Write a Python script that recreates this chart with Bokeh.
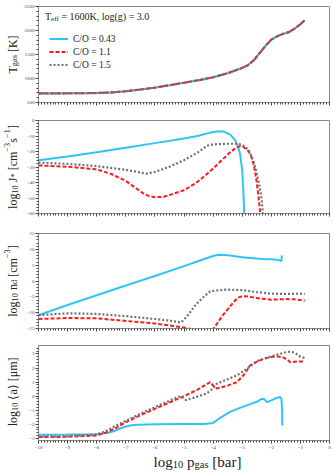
import math
from bokeh.plotting import figure
from bokeh.layouts import column, row
from bokeh.models import Range1d, FixedTicker, Label, Legend, LegendItem
from bokeh.embed import file_html
from bokeh.resources import INLINE

# ---------------- data ----------------
co_labels = ["C/O = 0.43", "C/O = 1.1", "C/O = 1.5"]

p_T = [-10, -9, -8, -7.5, -7, -6.5, -6, -5.5, -5, -4.5, -4, -3.5, -3, -2.8, -2.6,
       -2.4, -2.2, -2.0, -1.8, -1.6, -1.4, -1.2, -1.0, -0.85]
T_gas = [690, 692, 697, 710, 735, 770, 810, 860, 912, 965, 1025, 1110, 1220, 1280, 1380,
         1530, 1680, 1810, 1880, 1930, 1965, 2040, 2130, 2215]

pJ_043 = [-10, -9, -8, -7, -6, -5, -4.5, -4.2, -4, -3.8, -3.6, -3.4, -3.25, -3.15, -3.07,
          -3.0, -2.96, -2.93]
J_043 = [-25.7, -23.2, -20.5, -17.6, -14.6, -11.6, -9.8, -8.3, -7.4, -6.9, -7.3, -9.3,
         -12.5, -16.5, -22, -32, -45, -60]
pJ_11 = [-10, -9, -8, -7.5, -7, -6.7, -6.4, -6.2, -6, -5.7, -5.4, -5, -4.6, -4.3, -4,
         -3.7, -3.4, -3.2, -3.07, -2.95, -2.8, -2.7, -2.6, -2.55, -2.5, -2.44, -2.38]
J_11 = [-29, -29.8, -31.5, -34.5, -39, -43, -47, -48.8, -49.5, -49.2, -47.5, -45, -40.5,
        -36, -31, -25.5, -20.3, -17.5, -16.5, -17.2, -19.5, -22.5, -29, -34, -40, -49, -60]
pJ_15 = [-10, -9, -8, -7, -6.6, -6.3, -6, -5.5, -5, -4.5, -4.2, -4, -3.5, -3.2, -3, -2.8,
         -2.73, -2.6, -2.5, -2.42, -2.36, -2.32, -2.29]
J_15 = [-27.2, -28.0, -29.4, -31.8, -33.2, -34.3, -33.2, -29.8, -25.6, -20.3, -16.2,
        -15.4, -15.0, -15.0, -15.6, -18.5, -21, -27, -34, -41, -47, -53, -60]

pn_043 = [-10, -9, -8, -7, -6, -5, -4.5, -4, -3.8, -3.5, -3, -2.5, -2.2, -2, -1.8,
          -1.65, -1.64]
nd_043 = [-10.8, -7.6, -4.5, -1.4, 1.6, 4.7, 6.3, 7.9, 8.3, 8.1, 7.5, 7.1, 6.9, 6.9,
          6.7, 6.3, 8.1]
pn_11 = [-10, -9, -8, -7, -6, -5, -4.7, -4.4, -4.1, -3.98, -3.8, -3.64, -3.5, -3.3,
         -3.15, -3.0, -2.8, -2.5, -2, -1.5, -1.2, -0.85]
nd_11 = [-12, -11.7, -11.8, -12.6, -13.4, -14.7, -15.3, -15.8, -15.5, -15.0, -12.6,
         -10.5, -9.0, -6.7, -5.3, -4.8, -4.9, -5.4, -5.9, -5.7, -5.8, -6.2]
pn_15 = [-10, -9, -8, -7, -6, -5.5, -5.1, -4.9, -4.6, -4.3, -4.1, -3.9, -3.5, -3, -2.5,
         -2, -1.5, -1, -0.85]
nd_15 = [-10.8, -10.2, -10.4, -11.1, -12.0, -12.5, -13.1, -11.2, -7.5, -4.8, -3.3, -3.0,
         -2.7, -2.9, -3.5, -4.0, -4.1, -4.0, -4.1]

pa_043 = [-10, -9, -8, -7.6, -7.4, -7.2, -7.0, -6.8, -6.6, -6, -5, -4.3, -4, -3.8, -3.6,
          -3.4, -3.1, -2.8, -2.5, -2.33, -2.25, -2.15, -2.0, -1.85, -1.7, -1.65, -1.63,
          -1.62]
a_043 = [-2.74, -2.73, -2.7, -2.6, -2.48, -2.3, -2.15, -2.07, -2.03, -2.0, -1.98, -1.97,
         -1.9, -1.6, -1.35, -1.1, -0.85, -0.62, -0.4, -0.2, -0.2, -0.42, -0.3, -0.15,
         -0.05, -0.2, -1.0, -2.08]
pa_11 = [-10, -9, -8, -7.7, -7.42, -7, -6.5, -6, -5.5, -5, -4.5, -4.1, -4.0, -3.87, -3.5,
         -3.18, -2.95, -2.73, -2.5, -2.27, -2.0, -1.81, -1.6, -1.45, -1.35, -1.2, -1.0,
         -0.85]
a_11 = [-2.9, -2.89, -2.79, -2.6, -2.34, -1.85, -1.35, -0.9, -0.45, 0.0, 0.5, 1.0, 0.75,
        0.54, 0.75, 1.0, 1.5, 2.18, 2.45, 2.65, 2.78, 2.83, 2.76, 2.6, 2.41, 2.45, 2.47,
        2.46]
pa_15 = [-10, -9, -8, -7.7, -7.4, -7, -6.5, -6, -5.5, -5.13, -5.0, -4.93, -4.6, -4.22,
         -4.0, -3.87, -3.5, -3.18, -2.84, -2.5, -2.2, -1.81, -1.5, -1.35, -1.2, -1.0,
         -0.85]
a_15 = [-2.86, -2.85, -2.72, -2.5, -2.15, -1.75, -1.25, -0.78, -0.32, 0.0, -0.15, -0.28,
        -0.07, 0.19, 0.55, 0.89, 1.2, 1.48, 1.94, 2.48, 2.7, 2.95, 3.12, 3.16, 3.1, 2.8,
        2.72]

x_ticks = [-10, -9, -8, -7, -6, -5, -4, -3, -2, -1, 0]
yticks_T = [500, 1000, 1500, 2000, 2500]
yticks_J = [-60, -50, -40, -30, -20, -10, 0]
yticks_n = [-15, -10, -5, 0, 5, 10, 15]
yticks_a = [-3, -2, -1, 0, 1, 2, 3]

# ---------------- style ----------------
FONT = "Liberation Serif"
BLUE = "#2ec5f5"
RED = "#ff1a1a"
GRAY = "#707070"
AX = "#8a8a8a"
STRIP = 21          # width of the left label strip
FL = 35             # frame left (page px)
FW = 291            # frame width
TOTAL_H = 474
NB = "\u00a0"

W = {' ': 250, NB: 250, '[': 333, ']': 333, 'K': 722, 'T': 611, 'g': 500, 'a': 444,
     's': 389, 'l': 278, 'o': 500, 'J': 389, '*': 500, 'c': 444, 'm': 778,
     '\u2212': 564, 'n': 500, 'd': 500, '\u27e8': 333, '\u27e9': 333, '\u03bc': 520,
     'p': 500, 'b': 500, 'r': 333, 'e': 444, 'f': 333, '=': 564, ',': 250, '(': 333,
     ')': 333, '.': 250, 'C': 667, '/': 278, 'O': 722}


def tw(text, size):
    return sum(W.get(ch, 500) for ch in text) / 1000.0 * size


def rich(p, ox, oy_bottom, segs, px, py, base, rotated=False, center=True):
    """Mixed sub/superscript text. px, py: page px; (ox, oy_bottom): page position of
    the frame's bottom-left corner of figure p."""
    sizes = {"n": base, "sub": 0.7 * base, "sup": 0.7 * base}
    shifts = {"n": 0.0, "sub": -0.2 * base, "sup": 0.42 * base}
    total = sum(tw(t, sizes[k]) for t, k in segs)
    sx0 = px - ox
    sy0 = oy_bottom - py
    pos = (sy0 if rotated else sx0) - (total / 2.0 if center else 0.0)
    for t, k in segs:
        s = sizes[k]
        if rotated:
            lab = Label(x=sx0 - shifts[k], y=pos, angle=math.pi / 2)
        else:
            lab = Label(x=pos, y=sy0 + shifts[k])
        lab.x_units = "screen"
        lab.y_units = "screen"
        lab.text = t
        lab.text_font = FONT
        lab.text_font_size = f"{s:.2f}px"
        lab.text_color = "#222222"
        lab.text_align = "left"
        lab.text_baseline = "alphabetic"
        p.add_layout(lab)
        pos += tw(t, s)


def minus(v):
    return f"{v:g}".replace("-", "\u2212")


def make_fig(fh, top, bottom, yr, yticks, yminor, show_x):
    p = figure(frame_width=FW, frame_height=fh, output_backend="svg",
               toolbar_location=None, x_range=Range1d(-10, 0), y_range=Range1d(*yr),
               min_border_left=FL - STRIP, min_border_right=7, min_border_top=top,
               min_border_bottom=bottom)
    p.grid.visible = False
    p.outline_line_color = AX
    p.background_fill_color = "white"
    p.border_fill_color = "white"
    p.xaxis.ticker = FixedTicker(ticks=x_ticks,
                                 minor_ticks=[round(-10 + 0.1 * i, 2) for i in range(101)])
    p.yaxis.ticker = FixedTicker(ticks=yticks, minor_ticks=yminor)
    for ax in (p.xaxis[0], p.yaxis[0]):
        ax.axis_line_color = AX
        ax.major_tick_line_color = "#444444"
        ax.minor_tick_line_color = "#444444"
        ax.major_tick_out = 3
        ax.major_tick_in = 0
        ax.minor_tick_out = 2
        ax.minor_tick_in = 0
        ax.major_label_standoff = 1
        ax.major_label_text_font = FONT
        ax.major_label_text_font_size = "5px"
        ax.major_label_text_color = "#444444"
    p.yaxis.major_label_overrides = {v: minus(v) for v in yticks}
    if show_x:
        p.xaxis.major_label_overrides = {v: minus(v) for v in x_ticks}
        p.xaxis.major_label_standoff = 2
    else:
        p.xaxis.major_label_overrides = {v: "" for v in x_ticks}
        p.xaxis.major_label_text_font_size = "1px"
        p.xaxis.major_label_standoff = 0
    return p


def blank(w, h):
    f = figure(frame_width=w, frame_height=h, output_backend="svg", toolbar_location=None,
               x_range=Range1d(0, 1), y_range=Range1d(0, 1), x_axis_type=None,
               y_axis_type=None, min_border=0, min_border_left=0, min_border_right=0,
               min_border_top=0, min_border_bottom=0)
    f.outline_line_color = None
    f.grid.visible = False
    f.background_fill_color = "white"
    f.border_fill_color = "white"
    return f


def minors(lo, hi, step):
    n = int(round((hi - lo) / step))
    return [round(lo + i * step, 4) for i in range(n + 1)]


def draw(p, xs, ys):
    rs = []
    rs.append(p.line(xs[0], ys[0], line_color=BLUE, line_width=2))
    rs.append(p.line(xs[1], ys[1], line_color=RED, line_width=2, line_dash="4 2"))
    rs.append(p.line(xs[2], ys[2], line_color=GRAY, line_width=2.2, line_dash="2 2"))
    return rs


YLAB_X = 12
YS = 12

# panel 1 : page y 0..111, frame 6..102
p1 = make_fig(96, 6, 9, (500, 2500), yticks_T, minors(500, 2500, 100), False)
r1 = draw(p1, [p_T, p_T, p_T], [T_gas, T_gas, T_gas])
legend = Legend(items=[LegendItem(label=co_labels[i], renderers=[r1[i]]) for i in range(3)],
                location=(11, 31), padding=0, margin=0, spacing=0,
                glyph_width=19, glyph_height=13, label_height=13, label_standoff=5,
                label_text_font=FONT, label_text_font_size="9.5px",
                label_text_color="#222222", background_fill_alpha=0,
                border_line_alpha=0)
p1.add_layout(legend)
rich(p1, FL, 102, [("T", "n"), ("eff", "sub"),
                   (NB + "=" + NB + "1600K," + NB + "log(g)" + NB + "=" + NB + "3.0", "n")],
     41.5, 16, 10, center=False)

# panel 2 : page y 111..223, frame 120..213
p2 = make_fig(93, 9, 10, (-60, 0), yticks_J, minors(-60, 0, 2), False)
draw(p2, [pJ_043, pJ_11, pJ_15], [J_043, J_11, J_15])

# panel 3 : page y 223..336, frame 233..328
p3 = make_fig(95, 10, 8, (-15, 15), yticks_n, minors(-15, 15, 1), False)
draw(p3, [pn_043, pn_11, pn_15], [nd_043, nd_11, nd_15])

# panel 4 : page y 336..451, frame 345..440
p4 = make_fig(95, 9, 11, (-3.15, 3.6), yticks_a, minors(-3.0, 3.4, 0.2), True)
draw(p4, [pa_043, pa_11, pa_15], [a_043, a_11, a_15])

# left strip with the y-axis titles (page x 0..21, y 0..474)
left = blank(STRIP, TOTAL_H)
rich(left, 0, TOTAL_H, [("T", "n"), ("gas", "sub"), (NB + "[K]", "n")],
     YLAB_X, 54, YS, rotated=True)
rich(left, 0, TOTAL_H, [("log", "n"), ("10", "sub"), (NB + "J", "n"), ("*", "sub"),
                        (NB + "[cm", "n"), ("\u22123", "sup"), ("s", "n"),
                        ("\u22121", "sup"), ("]", "n")],
     YLAB_X, 166.5, YS, rotated=True)
rich(left, 0, TOTAL_H, [("log", "n"), ("10", "sub"), (NB + "n", "n"), ("d", "sub"),
                        (NB + "[cm", "n"), ("\u22123", "sup"), ("]", "n")],
     YLAB_X, 280.5, YS, rotated=True)
rich(left, 0, TOTAL_H, [("log", "n"), ("10", "sub"),
                        (NB + "\u27e8a\u27e9" + NB + "[\u03bcm]", "n")],
     YLAB_X, 392.5, YS, rotated=True)

# bottom strip with the x-axis title (page x 21..333, y 451..474)
bottom_h = TOTAL_H - (111 + 112 + 113 + 115)
bottom = blank(334 - STRIP - 1, bottom_h)
rich(bottom, STRIP, TOTAL_H, [("log", "n"), ("10", "sub"), (NB + "p", "n"), ("gas", "sub"),
                              (NB + "[bar]", "n")], 180, 461, 15)

layout = row(left, column(p1, p2, p3, p4, bottom, spacing=0), spacing=0)
open("out.html", "w").write(file_html(layout, INLINE))
